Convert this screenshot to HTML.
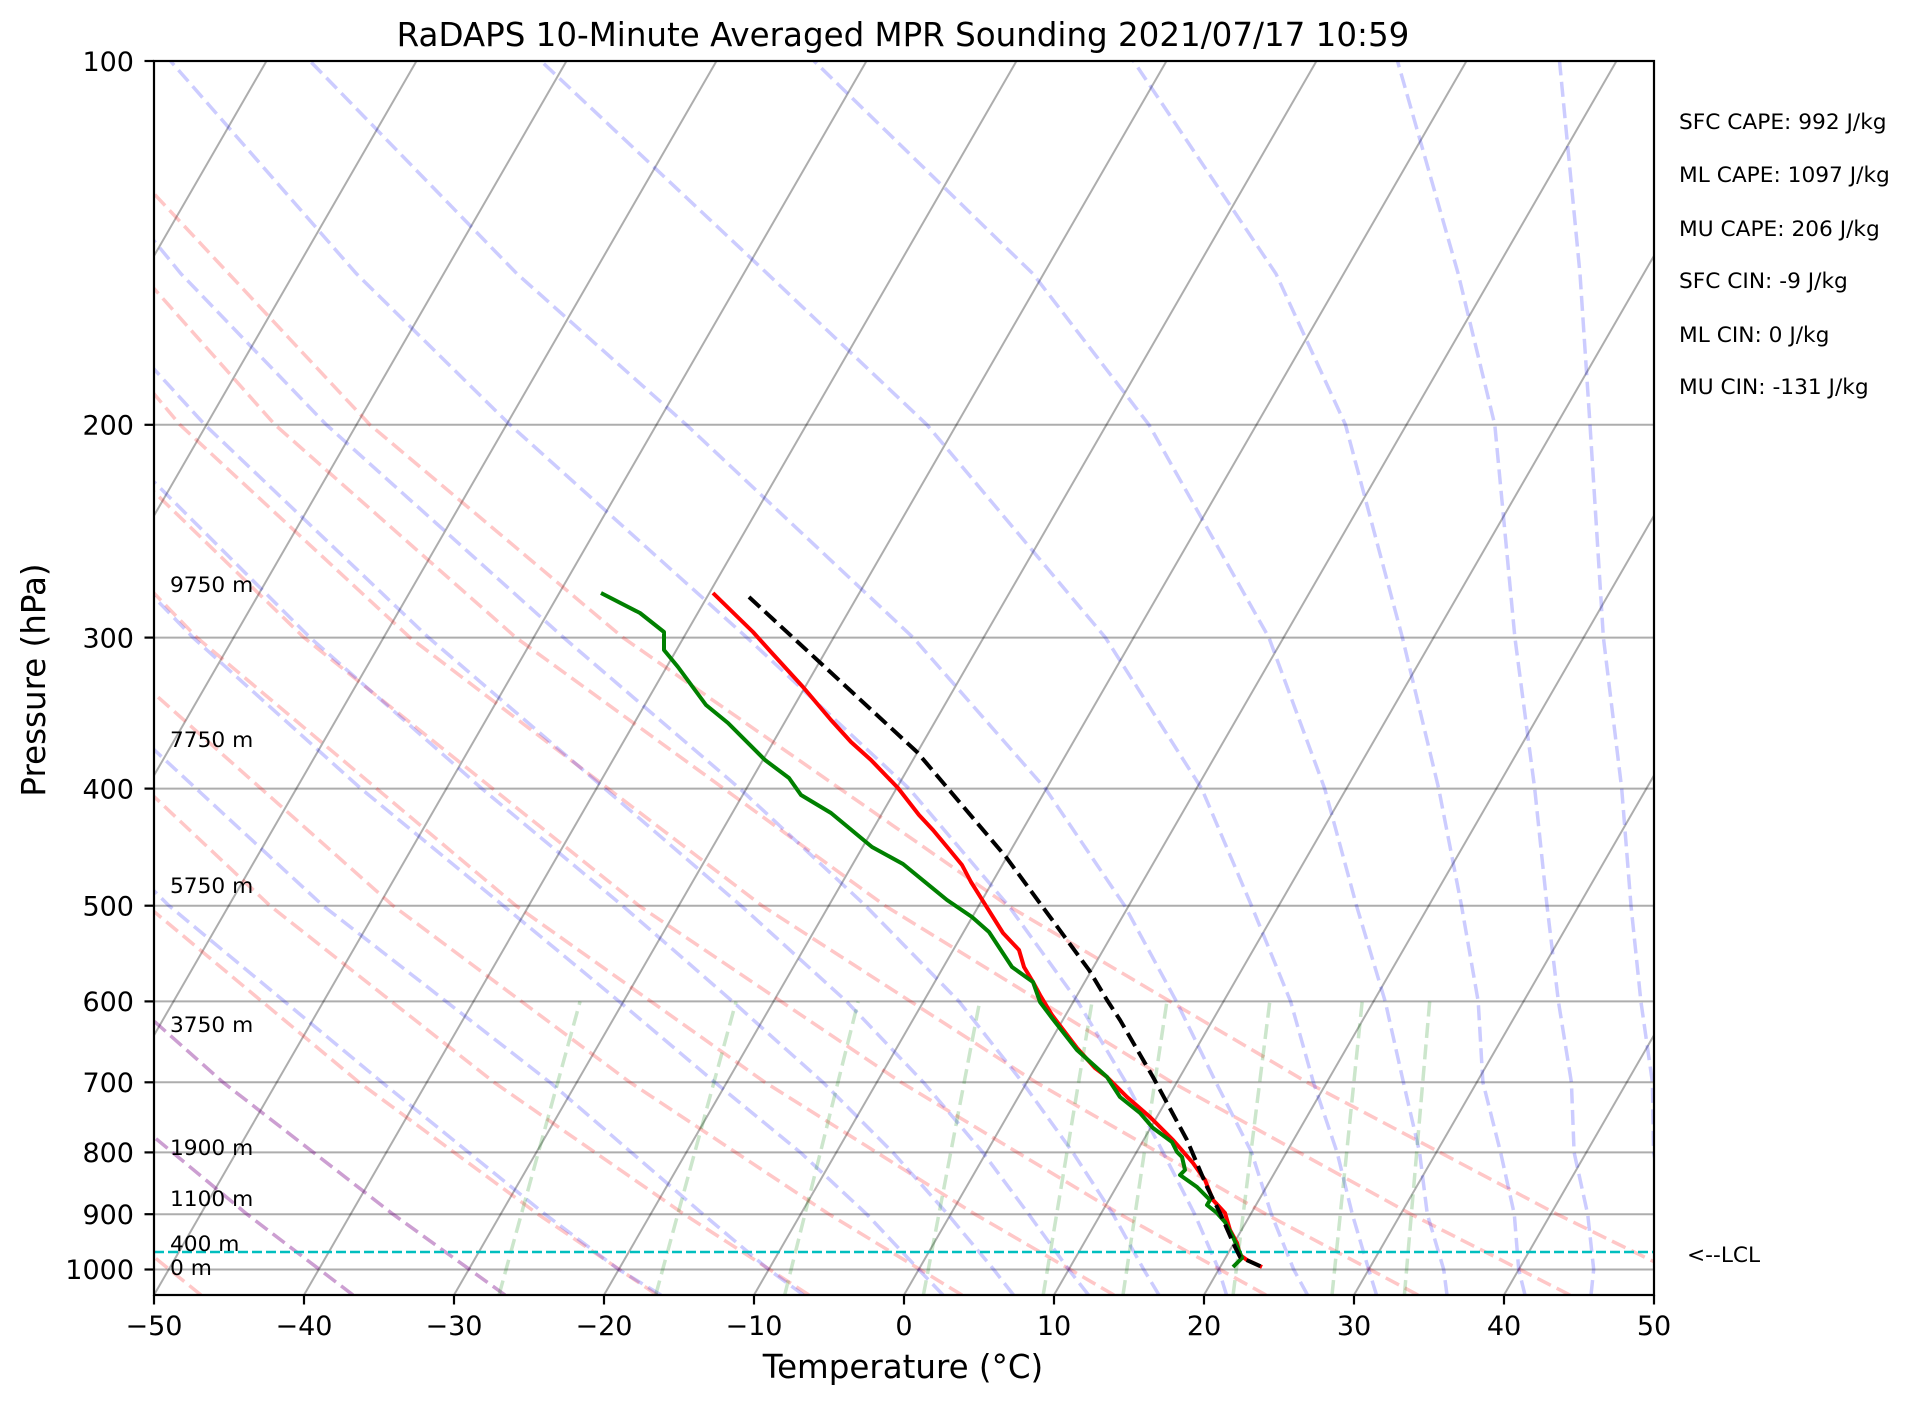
<!DOCTYPE html>
<html><head><meta charset="utf-8"><style>
html,body{margin:0;padding:0;background:#fff;}
svg{display:block;font-family:"DejaVu Sans","Liberation Sans",sans-serif;}
</style></head><body>
<svg width="1914" height="1406" viewBox="0 0 1914 1406" xmlns="http://www.w3.org/2000/svg">
<defs><clipPath id="c"><rect x="154" y="61" width="1500" height="1234"/></clipPath></defs>
<rect width="1914" height="1406" fill="#fff"/>
<g clip-path="url(#c)" fill="none">
<!-- isobars -->
<g stroke="#000" stroke-opacity="0.32" stroke-width="2">
<line x1="154" y1="424.8" x2="1654" y2="424.8"/><line x1="154" y1="637.6" x2="1654" y2="637.6"/>
<line x1="154" y1="788.6" x2="1654" y2="788.6"/><line x1="154" y1="905.7" x2="1654" y2="905.7"/>
<line x1="154" y1="1001.4" x2="1654" y2="1001.4"/><line x1="154" y1="1082.3" x2="1654" y2="1082.3"/>
<line x1="154" y1="1152.4" x2="1654" y2="1152.4"/><line x1="154" y1="1214.2" x2="1654" y2="1214.2"/>
<line x1="154" y1="1269.5" x2="1654" y2="1269.5"/>
<!-- isotherms -->
<line x1="-446" y1="1295" x2="266.5" y2="61"/><line x1="-296" y1="1295" x2="416.5" y2="61"/>
<line x1="-146" y1="1295" x2="566.5" y2="61"/><line x1="4" y1="1295" x2="716.5" y2="61"/>
<line x1="154" y1="1295" x2="866.5" y2="61"/><line x1="304" y1="1295" x2="1016.5" y2="61"/>
<line x1="454" y1="1295" x2="1166.5" y2="61"/><line x1="604" y1="1295" x2="1316.5" y2="61"/>
<line x1="754" y1="1295" x2="1466.5" y2="61"/><line x1="904" y1="1295" x2="1616.5" y2="61"/>
<line x1="1054" y1="1295" x2="1766.5" y2="61"/><line x1="1204" y1="1295" x2="1916.5" y2="61"/>
<line x1="1354" y1="1295" x2="2066.5" y2="61"/><line x1="1504" y1="1295" x2="2216.5" y2="61"/>
</g>
<!-- dry adiabats -->
<g stroke="#ff0000" stroke-opacity="0.22" stroke-width="3.5" stroke-dasharray="15,6.5">
<polyline points="201,1295 101,1214.2 -47,1082.3 -223,905.7"/>
<polyline points="353,1295 247,1214.2 88,1082.3 -100,905.7 -334,637.6"/>
<polyline points="505,1295 393,1214.2 223,1082.3 24,905.7 -228,637.6"/>
<polyline points="657,1295 538,1214.2 359,1082.3 147,905.7 -122,637.6"/>
<polyline points="809,1295 684,1214.2 494,1082.3 270,905.7 -15,637.6 -199,424.8"/>
<polyline points="962,1295 829,1214.2 630,1082.3 393,905.7 91,637.6 -104,424.8"/>
<polyline points="1114,1295 975,1214.2 765,1082.3 516,905.7 197,637.6 -9,424.8"/>
<polyline points="1266,1295 1120,1214.2 901,1082.3 639,905.7 304,637.6 85,424.8 -203,61"/>
<polyline points="1418,1295 1266,1214.2 1036,1082.3 762,905.7 410,637.6 180,424.8 -125,61"/>
<polyline points="1570,1295 1411,1214.2 1172,1082.3 885,905.7 516,637.6 275,424.8 -48,61"/>
<polyline points="1722,1295 1557,1214.2 1307,1082.3 1008,905.7 623,637.6 370,424.8 30,61"/>
</g>
<!-- moist adiabats -->
<g stroke="#0000ff" stroke-opacity="0.2" stroke-width="3.5" stroke-dasharray="15,6.5">
<polyline points="353,1295 247,1214.2 88,1082.3 -100,905.7 -334,637.6"/>
<polyline points="505,1295 393,1214.2 223,1082.3 24,905.7 -228,637.6"/>
<polyline points="661,1295 618.7,1269.5 545,1214.2 382,1082.3 169,905.7 -101,637.6"/>
<polyline points="803.5,1295 768.7,1269.5 703,1214.2 550,1082.3 323,905.7 32.6,637.6 -154,424.8"/>
<polyline points="943,1295 918.7,1269.5 866.7,1214.2 800.4,1152.4 714.9,1082.3 619.1,1001.4 503.3,905.7 360.9,788.6 193.1,637.6 -12.6,424.8"/>
<polyline points="1013.5,1295 993.7,1269.5 947.7,1214.2 892.8,1152.4 822.9,1082.3 732.5,1001.4 622.5,905.7 481.8,788.6 310.1,637.6 96.9,424.8"/>
<polyline points="1088.5,1295 1068.7,1269.5 1028.7,1214.2 982.8,1152.4 923.4,1082.3 846.5,1001.4 741,905.7 604.8,788.6 428.6,637.6 204.9,424.8 67,273.8"/>
<polyline points="1159,1295 1143.7,1269.5 1113,1214.2 1072.8,1152.4 1022.4,1082.3 959,1001.4 865.5,905.7 739.8,788.6 563.6,637.6 326.4,424.8 181,273.8 7,61"/>
<polyline points="1226.5,1295 1218.7,1269.5 1194.7,1214.2 1163.1,1152.4 1125.9,1082.3 1077.6,1001.4 1008.5,905.7 909.1,788.6 746.9,637.6 510,424.8 356.5,273.8 170.5,61"/>
<polyline points="1307.5,1295 1293.7,1269.5 1271.4,1214.2 1251.6,1152.4 1215.9,1082.3 1176.4,1001.4 1124.6,905.7 1045.4,788.6 913.2,637.6 686.4,424.8 517,273.8 310,61"/>
<polyline points="1376.5,1295 1368.7,1269.5 1352.3,1214.2 1337.1,1152.4 1313.4,1082.3 1290.6,1001.4 1251.5,905.7 1201.7,788.6 1105.4,637.6 927,424.8 767.5,273.8 541,61"/>
<polyline points="1447,1295 1443.7,1269.5 1427.3,1214.2 1419.6,1152.4 1403.4,1082.3 1385.2,1001.4 1356.5,905.7 1324.7,788.6 1268.9,637.6 1149,424.8 1033,273.8 814,61"/>
<polyline points="1525,1295 1518.7,1269.5 1514.3,1214.2 1500.6,1152.4 1482.9,1082.3 1478.2,1001.4 1461.5,905.7 1438.7,788.6 1402.4,637.6 1345.5,424.8 1276,273.8 1133.5,61"/>
<polyline points="1591,1295 1593.7,1269.5 1587.7,1214.2 1574.1,1152.4 1571.4,1082.3 1558.4,1001.4 1547,905.7 1534.7,788.6 1514.9,637.6 1494.8,424.8 1458.2,273.8 1397.5,61"/>
<polyline points="1666,1295 1668.7,1269.5 1665.7,1214.2 1653.6,1152.4 1652.4,1082.3 1640.9,1001.4 1631,905.7 1621.7,788.6 1603.4,637.6 1590,424.8 1580,273.8 1559.5,61"/>
</g>
<!-- mixing ratio -->
<g stroke="#008000" stroke-opacity="0.2" stroke-width="3.5" stroke-dasharray="15,6.5">
<line x1="499" y1="1295" x2="580.1" y2="1001.4"/>
<line x1="655.7" y1="1295" x2="736.1" y2="1001.4"/>
<line x1="784.7" y1="1295" x2="858.2" y2="1001.4"/>
<line x1="923.4" y1="1295" x2="979.7" y2="1001.4"/>
<line x1="1043.2" y1="1295" x2="1092.1" y2="1001.4"/>
<line x1="1123" y1="1295" x2="1166.9" y2="1001.4"/>
<line x1="1233.1" y1="1295" x2="1269.8" y2="1001.4"/>
<line x1="1332" y1="1295" x2="1362.2" y2="1001.4"/>
<line x1="1404.4" y1="1295" x2="1429.7" y2="1001.4"/>
</g>
<line x1="154" y1="1252" x2="1654" y2="1252" stroke="#00bfbf" stroke-width="2.5" stroke-dasharray="10,4"/>
<g stroke-width="4" stroke-linejoin="round">
<polyline stroke="#ff0000" points="713,593 753,632 771,652 803,687 831,720 851,742 871,760 898,788 919,815 933,830 948,848 962,865 971,882 1003,933 1019,950 1024,967 1033,982 1040,995 1052,1015 1077,1048 1095,1068 1107,1077 1127,1097 1150,1117 1173,1140 1193,1163 1205,1180 1213,1200 1225,1213 1230,1230 1237,1243 1240,1255 1247,1260 1262,1267"/>
<polyline stroke="#008000" points="601,593 640,613 664,632 664,650 678,667 706,705 728,723 765,760 789,778 801,795 831,813 872,847 903,864 947,900 972,917 989,932 1012,967 1033,982 1040,1002 1052,1018 1077,1050 1107,1077 1120,1097 1140,1113 1153,1128 1172,1142 1177,1152 1182,1157 1185,1170 1180,1175 1197,1187 1210,1200 1207,1205 1217,1213 1225,1222 1233,1237 1240,1253 1242,1258 1233,1267"/>
<polyline stroke="#000" stroke-dasharray="15,6.5" points="749,597 917,752 1006,857 1089,970 1107,1000 1120,1020 1153,1077 1187,1140 1207,1187 1220,1213 1235,1247 1240,1257 1262,1267"/>
</g>
</g>
<rect x="154" y="61" width="1500" height="1234" fill="none" stroke="#000" stroke-width="2.2"/>
<g stroke="#000" stroke-width="2.2">
<line x1="144.5" y1="61" x2="154" y2="61"/><line x1="144.5" y1="424.8" x2="154" y2="424.8"/>
<line x1="144.5" y1="637.6" x2="154" y2="637.6"/><line x1="144.5" y1="788.6" x2="154" y2="788.6"/>
<line x1="144.5" y1="905.7" x2="154" y2="905.7"/><line x1="144.5" y1="1001.4" x2="154" y2="1001.4"/>
<line x1="144.5" y1="1082.3" x2="154" y2="1082.3"/><line x1="144.5" y1="1152.4" x2="154" y2="1152.4"/>
<line x1="144.5" y1="1214.2" x2="154" y2="1214.2"/><line x1="144.5" y1="1269.5" x2="154" y2="1269.5"/>
<line x1="154" y1="1295" x2="154" y2="1304.5"/><line x1="304" y1="1295" x2="304" y2="1304.5"/>
<line x1="454" y1="1295" x2="454" y2="1304.5"/><line x1="604" y1="1295" x2="604" y2="1304.5"/>
<line x1="754" y1="1295" x2="754" y2="1304.5"/><line x1="904" y1="1295" x2="904" y2="1304.5"/>
<line x1="1054" y1="1295" x2="1054" y2="1304.5"/><line x1="1204" y1="1295" x2="1204" y2="1304.5"/>
<line x1="1354" y1="1295" x2="1354" y2="1304.5"/><line x1="1504" y1="1295" x2="1504" y2="1304.5"/>
<line x1="1654" y1="1295" x2="1654" y2="1304.5"/>
</g>
<g font-size="27" fill="#000" text-anchor="end">
<text x="134" y="71">100</text><text x="134" y="434.5">200</text><text x="134" y="647.3">300</text>
<text x="134" y="798.3">400</text><text x="134" y="915.4">500</text><text x="134" y="1011.1">600</text>
<text x="134" y="1092">700</text><text x="134" y="1162.1">800</text><text x="134" y="1223.9">900</text>
<text x="134" y="1279.2">1000</text>
</g>
<g font-size="27" fill="#000" text-anchor="middle">
<text x="154" y="1335">−50</text><text x="304" y="1335">−40</text><text x="454" y="1335">−30</text>
<text x="604" y="1335">−20</text><text x="754" y="1335">−10</text><text x="904" y="1335">0</text>
<text x="1054" y="1335">10</text><text x="1204" y="1335">20</text><text x="1354" y="1335">30</text>
<text x="1504" y="1335">40</text><text x="1654" y="1335">50</text>
</g>
<text x="903" y="46" font-size="32.5" text-anchor="middle">RaDAPS 10-Minute Averaged MPR Sounding 2021/07/17 10:59</text>
<text x="903" y="1378" font-size="32.5" text-anchor="middle">Temperature (°C)</text>
<text transform="translate(45,680) rotate(-90)" font-size="32.5" text-anchor="middle">Pressure (hPa)</text>
<g font-size="21.7" fill="#000">
<text x="1679" y="129">SFC CAPE: 992 J/kg</text>
<text x="1679" y="182">ML CAPE: 1097 J/kg</text>
<text x="1679" y="236">MU CAPE: 206 J/kg</text>
<text x="1679" y="288">SFC CIN: -9 J/kg</text>
<text x="1679" y="342">ML CIN: 0 J/kg</text>
<text x="1679" y="394">MU CIN: -131 J/kg</text>
<text x="1687" y="1262">&lt;--LCL</text>
<text x="170" y="592">9750 m</text>
<text x="170" y="747">7750 m</text>
<text x="170" y="893">5750 m</text>
<text x="170" y="1032">3750 m</text>
<text x="170" y="1155">1900 m</text>
<text x="170" y="1206">1100 m</text>
<text x="170" y="1251">400 m</text>
<text x="170" y="1275">0 m</text>
</g>
</svg>
</body></html>
